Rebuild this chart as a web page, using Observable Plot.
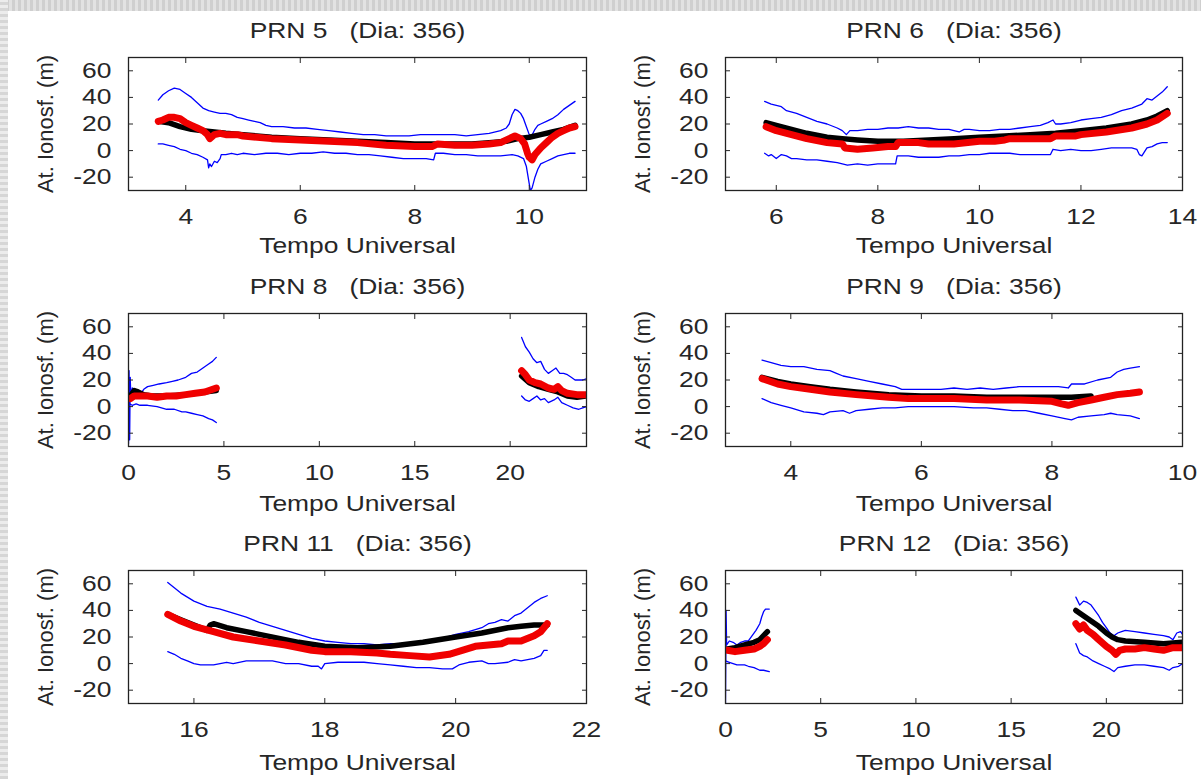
<!DOCTYPE html>
<html>
<head>
<meta charset="utf-8">
<script src="https://cdn.jsdelivr.net/npm/d3@7"></script>
<script src="https://cdn.jsdelivr.net/npm/@observablehq/plot@0.6"></script>
<style>
  html, body { margin: 0; padding: 0; background: #ffffff; }
  #wrap { position: relative; width: 1201px; height: 779px; overflow: hidden; background: #ffffff; }
  #topbar { position: absolute; left: 0; top: 0; width: 1201px; height: 11px;
    background: repeating-linear-gradient(90deg, #cfcfcf 0 3px, #e2e2e2 3px 6px); }
  #leftbar { position: absolute; left: 0; top: 0; width: 8px; height: 779px;
    background: repeating-linear-gradient(0deg, #d6d6d6 0 3px, #ececec 3px 6px); }
  .panel { position: absolute; }
</style>
</head>
<body>
<div id="wrap"><div id="topbar"></div><div id="leftbar"></div></div>
<script>
// ---- tick labels ----
const yTicks = [-20, 0, 20, 40, 60];
const yDomain = [-30, 70];
const ticks5 = [4, 6, 8, 10];
const ticks6 = [6, 8, 10, 12, 14];
const ticks8 = [0, 5, 10, 15, 20];
const ticks9 = [4, 6, 8, 10];
const ticks11 = [16, 18, 20, 22];
const ticks12 = [0, 5, 10, 15, 20];

// ---- titles ----
const titles = ["PRN 5", "PRN 6", "PRN 8", "PRN 9", "PRN 11", "PRN 12"];
const dayLabel = "(Dia: 356)";
const xLabel = "Tempo Universal";
const yLabel = "At. Ionosf. (m)";

// ---- PRN 5 ----
const prn5Upper = [[3.52,38],[3.6,42],[3.7,45],[3.8,47],[3.9,46],[4.0,43],[4.1,40],[4.2,36],[4.3,32],[4.4,30],[4.5,29],[4.6,28],[4.7,28],[4.8,27],[4.9,25],[5.0,24],[5.1,23],[5.2,22],[5.3,21],[5.4,19],[5.5,18],[5.7,18],[5.9,17],[6.1,17],[6.3,16],[6.5,15],[6.7,14],[6.9,13],[7.1,12],[7.3,12],[7.5,11],[7.7,11],[7.9,11],[8.1,12],[8.3,12],[8.5,12],[8.7,12],[8.9,11],[9.1,12],[9.3,13],[9.5,15],[9.6,17],[9.65,20],[9.7,27],[9.75,31],[9.8,30],[9.85,28],[9.9,24],[9.95,18],[10.0,12],[10.03,10],[10.1,16],[10.15,19],[10.2,20],[10.3,22],[10.4,24],[10.5,27],[10.6,31],[10.7,34],[10.8,37]];
const prn5Lower = [[3.52,5],[3.6,5],[3.7,4],[3.8,3],[3.9,1],[4.0,0],[4.1,-2],[4.2,-3],[4.3,-5],[4.38,-7],[4.4,-13],[4.42,-10],[4.45,-12],[4.5,-8],[4.55,-9],[4.6,-6],[4.62,-3],[4.7,-3],[4.8,-2],[4.9,-3],[5.0,-2],[5.2,-3],[5.4,-2],[5.6,-2],[5.8,-3],[6.0,-2],[6.2,-2],[6.4,-1],[6.6,-2],[6.8,-2],[7.0,-3],[7.2,-3],[7.4,-4],[7.6,-5],[7.8,-6],[8.0,-6],[8.2,-6],[8.33,-7],[8.36,-2],[8.5,-2],[8.7,-3],[8.9,-3],[9.1,-4],[9.3,-4],[9.5,-4],[9.7,-3],[9.8,-4],[9.9,-6],[9.95,-12],[10.0,-25],[10.02,-30],[10.05,-28],[10.1,-20],[10.15,-14],[10.2,-10],[10.3,-8],[10.4,-6],[10.5,-4],[10.6,-3],[10.7,-2],[10.8,-2]];
const prn5Black = [[3.52,22],[3.7,21],[3.9,18],[4.1,16],[4.3,15],[4.5,14],[4.7,13],[5.0,12],[5.5,10],[6.0,9],[6.5,8],[7.0,7],[7.5,6],[8.0,5],[8.5,5],[9.0,5],[9.3,6],[9.6,7],[9.8,9],[10.0,10],[10.2,12],[10.4,14],[10.6,16],[10.8,19]];
const prn5Red = [[3.52,22],[3.6,23],[3.7,25],[3.8,25],[3.9,24],[4.0,21],[4.1,19],[4.2,17],[4.3,15],[4.38,12],[4.42,9],[4.5,12],[4.6,13],[4.7,12],[4.9,12],[5.0,11],[5.5,9],[6.0,8],[6.5,7],[7.0,6],[7.5,4],[8.0,3],[8.3,3],[8.4,5],[8.7,4],[9.0,4],[9.3,5],[9.5,6],[9.65,9],[9.75,11],[9.85,9],[9.92,5],[9.97,-2],[10.0,-5],[10.05,-7],[10.1,-3],[10.2,2],[10.3,6],[10.4,10],[10.5,13],[10.6,15],[10.7,17],[10.8,18]];

// ---- PRN 6 ----
const prn6Upper = [[5.77,37],[5.9,35],[6.0,34],[6.1,33],[6.2,30],[6.4,28],[6.6,25],[6.8,22],[7.0,20],[7.2,17],[7.3,15],[7.38,12],[7.45,15],[7.6,15],[7.8,16],[8.0,16],[8.2,17],[8.4,17],[8.6,18],[8.8,17],[9.0,17],[9.2,16],[9.4,16],[9.5,15],[9.6,14],[9.7,16],[9.8,16],[10.0,15],[10.2,15],[10.4,16],[10.6,16],[10.8,17],[11.0,18],[11.2,19],[11.35,21],[11.45,23],[11.5,20],[11.6,20],[11.8,21],[12.0,23],[12.2,24],[12.4,25],[12.6,27],[12.8,30],[13.0,32],[13.2,35],[13.3,39],[13.4,38],[13.5,41],[13.6,44],[13.7,48]];
const prn6Lower = [[5.77,-2],[5.85,-4],[5.9,-3],[6.0,-6],[6.1,-3],[6.2,-4],[6.3,-6],[6.4,-6],[6.6,-7],[6.8,-7],[7.0,-8],[7.2,-9],[7.4,-11],[7.6,-10],[7.8,-11],[8.0,-10],[8.2,-10],[8.35,-10],[8.38,-4],[8.6,-4],[8.8,-5],[9.0,-5],[9.2,-5],[9.4,-4],[9.6,-4],[9.8,-3],[10.0,-3],[10.2,-2],[10.4,-2],[10.6,-2],[10.8,-3],[11.0,-3],[11.2,-3],[11.4,-3],[11.45,1],[11.6,0],[11.8,1],[12.0,0],[12.2,0],[12.4,1],[12.6,2],[12.8,2],[13.0,2],[13.1,1],[13.15,-3],[13.2,-4],[13.25,-1],[13.3,2],[13.4,3],[13.5,5],[13.6,6],[13.7,6]];
const prn6Black = [[5.8,21],[6.0,19],[6.3,16],[6.6,13],[7.0,10],[7.3,9],[7.6,8],[8.0,7],[8.5,7],[9.0,8],[9.5,9],[10.0,10],[10.5,11],[11.0,12],[11.5,13],[12.0,15],[12.5,17],[13.0,20],[13.3,23],[13.5,26],[13.7,30]];
const prn6Red = [[5.8,18],[6.0,15],[6.3,12],[6.6,9],[7.0,6],[7.3,5],[7.35,2],[7.6,1],[7.9,2],[8.2,3],[8.35,3],[8.4,6],[8.8,6],[9.0,5],[9.5,5],[10.0,7],[10.3,7],[10.5,8],[10.6,9],[11.0,9],[11.4,9],[11.5,11],[11.9,11],[12.0,12],[12.5,14],[13.0,17],[13.3,20],[13.5,23],[13.7,28]];

// ---- PRN 8 (two passes, gap between) ----
const prn8Upper = [[0,-28],[0.03,27],[0.06,-25],[0.09,22],[0.12,8],[0.2,14],[0.3,11],[0.4,10],[0.5,11],[0.6,9],[0.8,13],[1.0,15],[1.3,16],[1.6,17],[2.0,18],[2.3,19],[2.6,20],[3.0,22],[3.3,25],[3.6,26],[3.9,29],[4.2,32],[4.4,34],[4.6,37],[null,null],[20.6,52],[20.8,45],[21.0,41],[21.2,36],[21.4,33],[21.6,34],[21.8,28],[22.0,25],[22.2,27],[22.4,29],[22.6,25],[22.8,25],[23.0,24],[23.2,22],[23.4,20],[23.6,20],[23.8,20],[24.0,21]];
const prn8Lower = [[0,-20],[0.05,2],[0.2,1],[0.4,2],[0.6,1],[1.0,1],[1.5,0],[2.0,-2],[2.4,-2],[2.8,-4],[3.0,-4],[3.3,-5],[3.6,-6],[3.9,-7],[4.2,-9],[4.4,-10],[4.6,-12],[null,null],[20.6,8],[20.8,5],[21.0,4],[21.2,6],[21.4,8],[21.6,5],[21.8,6],[22.0,3],[22.3,5],[22.5,7],[22.7,3],[23.0,1],[23.3,-1],[23.6,-2],[23.8,-1],[24.0,0]];
const prn8Black = [[0.1,8],[0.3,12],[0.5,11],[0.8,9],[1.2,8],[2.0,8],[3.0,9],[4.0,11],[4.6,12],[null,null],[20.6,23],[21.0,18],[21.5,15],[22.0,13],[22.5,11],[23.0,8],[23.5,7],[24.0,8]];
const prn8Red = [[0.1,6],[0.3,8],[0.5,8],[1.0,8],[1.5,7],[2.0,8],[2.5,8],[3.0,9],[3.5,10],[4.0,11],[4.6,14],[null,null],[20.6,27],[20.8,24],[21.0,20],[21.3,18],[21.6,17],[22.0,14],[22.3,13],[22.5,15],[22.7,12],[23.0,10],[23.5,9],[24.0,9]];

// ---- PRN 9 ----
const prn9Upper = [[3.56,35],[3.7,33],[3.85,31],[4.0,30],[4.2,30],[4.4,28],[4.6,27],[4.7,25],[4.8,23],[5.0,21],[5.2,19],[5.4,17],[5.6,15],[5.7,13],[5.9,13],[6.1,13],[6.3,13],[6.5,14],[6.7,13],[6.9,14],[7.1,13],[7.3,14],[7.5,15],[7.7,15],[7.9,15],[8.1,15],[8.25,14],[8.3,17],[8.5,17],[8.7,20],[8.9,22],[9.0,26],[9.1,28],[9.2,29],[9.34,30]];
const prn9Lower = [[3.56,6],[3.7,3],[3.85,1],[4.0,-1],[4.2,-4],[4.4,-5],[4.5,-6],[4.6,-4],[4.8,-3],[4.9,-5],[5.0,-3],[5.2,-2],[5.4,-1],[5.6,-1],[5.8,0],[6.0,0],[6.2,0],[6.5,0],[6.8,-1],[7.0,-1],[7.2,-2],[7.4,-3],[7.6,-3],[7.8,-5],[8.0,-7],[8.2,-9],[8.3,-10],[8.4,-8],[8.6,-7],[8.8,-6],[8.9,-5],[9.0,-6],[9.2,-7],[9.34,-9]];
const prn9Black = [[3.56,22],[3.8,19],[4.0,17],[4.3,15],[4.6,13],[5.0,11],[5.5,9],[6.0,8],[6.5,8],[7.0,7],[7.5,7],[8.0,7],[8.3,7],[8.6,8]];
const prn9Red = [[3.56,21],[3.8,17],[4.0,15],[4.3,13],[4.6,11],[5.0,9],[5.5,7],[5.8,6],[6.0,6],[6.5,6],[7.0,5],[7.5,5],[8.0,4],[8.15,2],[8.25,1],[8.4,3],[8.6,5],[8.8,7],[9.0,9],[9.2,10],[9.34,11]];

// ---- PRN 11 ----
const prn11Upper = [[15.6,61],[15.7,57],[15.8,53],[15.9,50],[16.0,47],[16.2,43],[16.4,41],[16.6,38],[16.8,35],[17.0,31],[17.2,28],[17.4,25],[17.6,22],[17.8,19],[18.0,17],[18.2,16],[18.4,15],[18.6,15],[18.8,14],[19.0,15],[19.2,15],[19.4,16],[19.6,17],[19.8,19],[20.0,22],[20.2,24],[20.4,27],[20.5,30],[20.6,31],[20.7,33],[20.8,32],[20.9,36],[21.0,38],[21.1,42],[21.2,46],[21.3,49],[21.4,51]];
const prn11Lower = [[15.6,9],[15.7,7],[15.8,4],[15.9,2],[16.0,0],[16.1,-1],[16.2,-1],[16.3,-1],[16.4,0],[16.5,1],[16.6,0],[16.8,2],[17.0,2],[17.2,2],[17.4,0],[17.6,0],[17.8,-2],[17.9,-2],[17.95,-4],[18.0,0],[18.2,1],[18.4,1],[18.6,1],[18.8,0],[19.0,-1],[19.2,-2],[19.4,-3],[19.6,-3],[19.8,-4],[19.95,-4],[20.05,-1],[20.2,1],[20.4,2],[20.5,0],[20.6,0],[20.8,1],[20.9,3],[21.0,2],[21.2,4],[21.3,6],[21.35,10],[21.4,10]];
const prn11Black = [[15.6,37],[15.8,33],[16.0,29],[16.2,25],[16.25,29],[16.3,30],[16.5,27],[16.8,24],[17.0,22],[17.3,19],[17.6,16],[18.0,13],[18.5,12],[19.0,13],[19.5,16],[20.0,20],[20.4,23],[20.8,27],[21.0,28],[21.2,29],[21.4,29]];
const prn11Red = [[15.6,37],[15.8,32],[16.0,28],[16.3,24],[16.6,20],[17.0,17],[17.4,14],[17.8,10],[18.0,9],[18.4,9],[18.8,8],[19.0,7],[19.3,6],[19.6,5],[19.9,7],[20.1,10],[20.3,13],[20.5,14],[20.7,15],[20.8,17],[21.0,17],[21.2,21],[21.3,24],[21.4,30]];

// ---- PRN 12 (two passes, gap between) ----
const prn12Upper = [[0,-30],[0.03,40],[0.06,14],[0.2,17],[0.4,16],[0.6,14],[0.8,16],[1.0,17],[1.2,17],[1.4,21],[1.6,25],[1.8,30],[1.9,35],[2.0,39],[2.1,41],[2.3,41],[null,null],[18.4,50],[18.6,44],[18.8,47],[19.0,46],[19.2,44],[19.4,40],[19.6,36],[19.8,31],[20.0,27],[20.2,23],[20.4,21],[20.6,23],[20.8,24],[21.0,25],[21.5,24],[22.0,23],[22.5,22],[23.0,21],[23.3,20],[23.5,18],[23.7,23],[23.9,24],[24.0,22]];
const prn12Lower = [[0,2],[0.2,1],[0.4,0],[0.6,-1],[0.8,-1],[1.0,-1],[1.2,-2],[1.5,-3],[1.8,-5],[2.0,-5],[2.3,-6],[null,null],[18.4,15],[18.6,8],[18.8,6],[19.0,5],[19.3,2],[19.6,0],[19.9,-2],[20.2,-4],[20.4,-6],[20.6,-3],[21.0,-2],[21.5,-1],[22.0,-1],[22.5,-2],[23.0,-3],[23.3,-5],[23.5,-3],[23.8,-2],[24.0,0]];
const prn12Black = [[0.1,11],[0.5,12],[1.0,14],[1.5,16],[1.8,18],[2.0,21],[2.2,24],[null,null],[18.4,40],[18.8,36],[19.2,32],[19.6,28],[20.0,23],[20.3,20],[20.6,18],[21.0,17],[22.0,16],[23.0,15],[24.0,16]];
const prn12Red = [[0.1,10],[0.5,9],[1.0,10],[1.5,11],[1.8,13],[2.0,15],[2.2,18],[null,null],[18.4,30],[18.6,26],[18.8,29],[19.0,25],[19.3,22],[19.6,18],[20.0,13],[20.3,10],[20.5,7],[20.7,10],[21.0,11],[21.5,11],[22.0,12],[22.5,11],[23.0,10],[23.5,12],[24.0,12]];

// ---- panel definitions (built from the arrays above) ----
const panels = [
  {title: titles[0], xDomain: [3, 11], xTicks: ticks5, upper: prn5Upper, lower: prn5Lower, black: prn5Black, red: prn5Red},
  {title: titles[1], xDomain: [5, 14], xTicks: ticks6, upper: prn6Upper, lower: prn6Lower, black: prn6Black, red: prn6Red},
  {title: titles[2], xDomain: [0, 24], xTicks: ticks8, upper: prn8Upper, lower: prn8Lower, black: prn8Black, red: prn8Red},
  {title: titles[3], xDomain: [3, 10], xTicks: ticks9, upper: prn9Upper, lower: prn9Lower, black: prn9Black, red: prn9Red},
  {title: titles[4], xDomain: [15, 22], xTicks: ticks11, upper: prn11Upper, lower: prn11Lower, black: prn11Black, red: prn11Red},
  {title: titles[5], xDomain: [0, 24], xTicks: ticks12, upper: prn12Upper, lower: prn12Lower, black: prn12Black, red: prn12Red}
];

const boxTops = [57, 313, 570];
const xLabelDy = [55, 57, 59];
const colLeft = [128, 125], colRight = [14, 18];
const mTop = 47, mBottom = 72, boxH = 133;
const FONT = "'Liberation Sans', Arial, Helvetica, sans-serif";
const FS = 22;          // font size
const STRETCH = 1.2;    // the reference's lettering is drawn horizontally wide
const TXT = "#262626";
const X = d => d[0], Y = d => d[1];
const fmt = d => String(d);

const wrap = document.getElementById("wrap");
panels.forEach((p, i) => {
  const col = i % 2, row = Math.floor(i / 2);
  const svg = Plot.plot({
    width: 600,
    height: mTop + boxH + mBottom,
    marginLeft: colLeft[col],
    marginRight: colRight[col],
    marginTop: mTop,
    marginBottom: mBottom,
    style: {background: "transparent", overflow: "visible", fontFamily: FONT, fontSize: FS + "px", color: TXT},
    x: {domain: p.xDomain},
    y: {domain: yDomain},
    marks: [
      Plot.line(p.upper, {x: X, y: Y, stroke: "#0000ff", strokeWidth: 1.3, clip: true}),
      Plot.line(p.lower, {x: X, y: Y, stroke: "#0000ff", strokeWidth: 1.3, clip: true}),
      Plot.line(p.black, {x: X, y: Y, stroke: "#000000", strokeWidth: 5.5, clip: true}),
      Plot.line(p.red, {x: X, y: Y, stroke: "#f00000", strokeWidth: 7, clip: true}),
      Plot.frame({stroke: "#222", strokeWidth: 1.3}),
      Plot.axisX({anchor: "bottom", ticks: p.xTicks, tickFormat: fmt, tickSize: -5, tickPadding: 23, label: null, fill: TXT, fontSize: FS}),
      Plot.axisX({anchor: "top", ticks: p.xTicks, tickSize: -5, tickFormat: () => "", label: null}),
      Plot.axisY({anchor: "left", ticks: yTicks, tickFormat: fmt, tickSize: -5, tickPadding: 22, label: null, fill: TXT, fontSize: FS}),
      Plot.axisY({anchor: "right", ticks: yTicks, tickSize: -5, tickFormat: () => "", label: null}),
      Plot.text([p.title + "\u00a0\u00a0\u00a0" + dayLabel], {text: d => d, frameAnchor: "top", dy: -27, lineAnchor: "middle", textAnchor: "middle", fontSize: FS, fill: TXT}),
      Plot.text([xLabel], {text: d => d, frameAnchor: "bottom", dy: xLabelDy[row], lineAnchor: "middle", textAnchor: "middle", fontSize: FS, fill: TXT}),
      Plot.text([yLabel], {text: d => d, frameAnchor: "left", dx: -83, rotate: -90, lineAnchor: "middle", textAnchor: "middle", fontSize: FS, fill: TXT})
    ]
  });
  svg.classList.add("panel");
  svg.style.left = (col * 600) + "px";
  svg.style.top = (boxTops[row] - mTop) + "px";
  wrap.appendChild(svg);
  // widen horizontal lettering (glyph stretch, positions unchanged)
  svg.querySelectorAll("text").forEach(t => {
    try {
      if (!t.textContent || t.textContent === yLabel) return;
      const w = t.getComputedTextLength();
      if (w > 0) {
        t.setAttribute("textLength", (w * STRETCH).toFixed(1));
        t.setAttribute("lengthAdjust", "spacingAndGlyphs");
      }
    } catch (e) {}
  });
});
</script>
</body>
</html>
